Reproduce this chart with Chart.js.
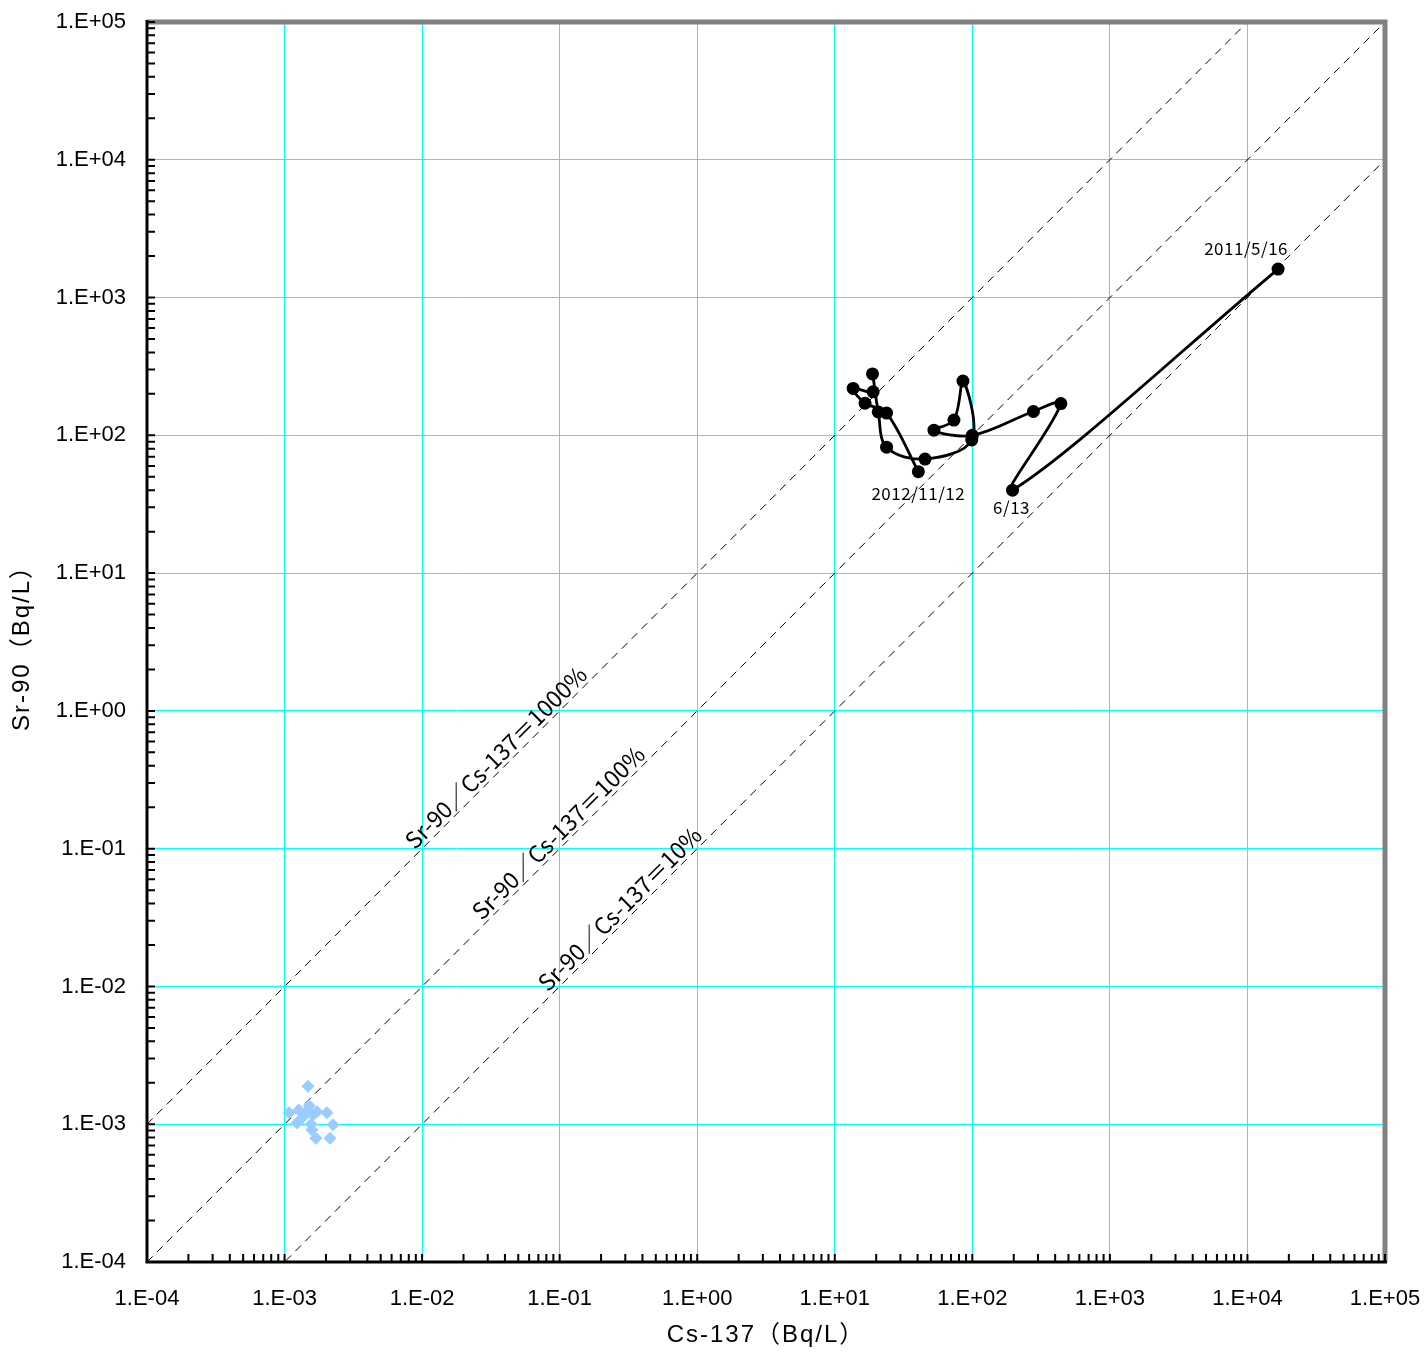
<!DOCTYPE html>
<html>
<head>
<meta charset="utf-8">
<script src="https://cdn.jsdelivr.net/npm/chart.js@4.4.1/dist/chart.umd.min.js"></script>
<style>
  html, body { margin: 0; padding: 0; background: #fff; }
  #wrap { width: 1426px; height: 1354px; }
</style>
</head>
<body>
<div id="wrap"><canvas id="chart"></canvas></div>
<script>
// ---- data ----
const decadeExps = [-4, -3, -2, -1, 0, 1, 2, 3, 4, 5];
const tickLabels = ['1.E-04', '1.E-03', '1.E-02', '1.E-01', '1.E+00', '1.E+01', '1.E+02', '1.E+03', '1.E+04', '1.E+05'];

// main series (time order, 2011/5/16 -> 2012/11/12)
const cs137 = [16700, 196, 440, 278, 100, 52.6, 73.5, 85.5, 99, 45.3, 23.8, 20.7, 18.8, 19.0, 13.6, 16.6, 23.8, 40.5];
const sr90  = [1610, 40, 170, 149, 100, 109, 129, 248, 92.5, 67.3, 82, 148, 279, 207, 219, 171, 145, 54.5];
const pointNames = ['2011/5/16', '6/13', '', '', '', '', '', '', '', '', '', '', '', '', '', '', '', '2012/11/12'];

// background (light blue diamonds)
const bgCs137 = [1.48e-3, 1.08e-3, 1.27e-3, 1.23e-3, 1.36e-3, 1.51e-3, 1.61e-3, 1.56e-3, 1.72e-3, 2.03e-3, 2.25e-3, 2.14e-3, 1.69e-3, 1.58e-3, 1.43e-3];
const bgSr90  = [1.89e-3, 1.21e-3, 1.27e-3, 1.02e-3, 1.13e-3, 1.36e-3, 1.17e-3, 1.0e-3, 1.23e-3, 1.21e-3, 0.99e-3, 0.79e-3, 0.79e-3, 0.91e-3, 1.21e-3];

// Sr-90 / Cs-137 ratio lines
const ratioValues = [10, 1, 0.1];
const ratioNames = ['Sr-90／Cs-137＝1000%', 'Sr-90／Cs-137＝100%', 'Sr-90／Cs-137＝10%'];
const ratioLabelAt = [0.0397, 0.113, 0.316];   // Cs-137 value where each label sits

const xTitle = 'Cs-137（Bq/L）';
const yTitle = 'Sr-90（Bq/L）';

// ---- helpers ----
const MIN = 1e-4, MAX = 1e5;
const allTicks = [];
decadeExps.forEach(e => {
    for (let m = 1; m <= 9; m++) {
        const v = m * Math.pow(10, e);
        if (v <= MAX * 1.0001) allTicks.push(v);
    }
});
const isDecade = v => Math.abs(Math.log10(v) - Math.round(Math.log10(v))) < 1e-6;
const labelFor = v => {
    if (!isDecade(v)) return '';
    const i = decadeExps.indexOf(Math.round(Math.log10(v)));
    return i >= 0 ? tickLabels[i] : '';
};

const mainPts = cs137.map((x, i) => ({ x: x, y: sr90[i] }));
const bgPts = bgCs137.map((x, i) => ({ x: x, y: bgSr90[i] }));

const ratioSets = ratioValues.map(r => ({
    type: 'scatter',
    data: [{ x: MIN, y: MIN * r }, { x: MAX, y: MAX * r }],
    showLine: true,
    borderColor: '#000',
    borderWidth: 1,
    borderDash: [8, 6],
    pointRadius: 0,
    tension: 0,
    order: 5
}));

const fitPad = s => { s.paddingLeft = 0; s.paddingRight = 0; s.paddingTop = 0; s.paddingBottom = 0; };

const axisCommon = {
    type: 'logarithmic',
    min: MIN,
    max: MAX,
    border: { display: false },
    grid: {
        drawTicks: false,
        lineWidth: 1,
        color: ctx => (ctx.tick && isDecade(ctx.tick.value)) ? '#00FFFF' : 'rgba(0,0,0,0)'
    },
    afterBuildTicks: scale => { scale.ticks = allTicks.map(v => ({ value: v })); },
    ticks: {
        autoSkip: false,
        maxRotation: 0,
        minRotation: 0,
        color: '#000',
        font: { family: '"Liberation Sans", Arial, sans-serif', size: 22 },
        callback: v => labelFor(v)
    }
};

// ---- decorations: axes, ticks, titles, labels ----
const decor = {
    id: 'decor',
    afterDatasetsDraw(chart) {
        const ctx = chart.ctx;
        const xs = chart.scales.x, ys = chart.scales.y;

        // ratio labels along dashed lines
        ctx.save();
        ctx.fillStyle = '#000';
        ctx.font = '23px "Noto Sans CJK JP", sans-serif';
        ctx.textAlign = 'center';
        ctx.textBaseline = 'bottom';
        ratioValues.forEach((r, i) => {
            const x0 = ratioLabelAt[i];
            const px = xs.getPixelForValue(x0), py = ys.getPixelForValue(x0 * r);
            const px2 = xs.getPixelForValue(x0 * 10), py2 = ys.getPixelForValue(x0 * 10 * r);
            const ang = Math.atan2(py2 - py, px2 - px);
            ctx.save();
            ctx.translate(px, py);
            ctx.rotate(ang);
            ctx.fillText(ratioNames[i], 0, -1);
            ctx.restore();
        });
        ctx.restore();

        // date labels on main series
        const meta = chart.getDatasetMeta(0);
        ctx.save();
        ctx.fillStyle = '#000';
        ctx.font = '17px "Noto Sans CJK JP", sans-serif';
        ctx.letterSpacing = '0.5px';
        ctx.textAlign = 'center';
        ctx.textBaseline = 'middle';
        pointNames.forEach((name, i) => {
            if (!name) return;
            const el = meta.data[i];
            let dx = 0, dy = 22;
            if (i === 0) { dx = -32; dy = -21; }
            else if (i === 1) { dx = -1; dy = 17; }
            ctx.fillText(name, el.x + dx, el.y + dy);
        });
        ctx.restore();
    },
    afterDraw(chart) {
        const ctx = chart.ctx;
        const a = chart.chartArea;
        const xs = chart.scales.x, ys = chart.scales.y;

        ctx.save();
        // top / right frame (gray)
        ctx.strokeStyle = '#808080';
        ctx.lineWidth = 5;
        ctx.beginPath();
        ctx.moveTo(a.left, a.top);
        ctx.lineTo(a.right, a.top);
        ctx.lineTo(a.right, a.bottom);
        ctx.stroke();

        // left / bottom axis (black)
        ctx.strokeStyle = '#000';
        ctx.lineWidth = 3;
        ctx.beginPath();
        ctx.moveTo(a.left, a.top - 2);
        ctx.lineTo(a.left, a.bottom);
        ctx.lineTo(a.right + 2, a.bottom);
        ctx.stroke();

        // inward ticks
        ctx.lineWidth = 2;
        ctx.beginPath();
        allTicks.forEach(v => {
            const py = ys.getPixelForValue(v);
            ctx.moveTo(a.left, py);
            ctx.lineTo(a.left + 8, py);
            const px = xs.getPixelForValue(v);
            ctx.moveTo(px, a.bottom);
            ctx.lineTo(px, a.bottom - 8);
        });
        ctx.stroke();

        // axis titles
        ctx.fillStyle = '#000';
        ctx.font = '24px "Liberation Sans", "Noto Sans CJK JP", sans-serif';
        ctx.letterSpacing = '2px';
        ctx.textAlign = 'center';
        ctx.textBaseline = 'middle';
        ctx.fillText(xTitle, (a.left + a.right) / 2, 1335);
        ctx.translate(22, (a.top + a.bottom) / 2);
        ctx.rotate(-Math.PI / 2);
        ctx.fillText(yTitle, 0, 0);
        ctx.restore();
    }
};

new Chart(document.getElementById('chart'), {
    type: 'scatter',
    data: {
        datasets: [
            {
                data: mainPts,
                showLine: true,
                borderColor: '#000',
                borderWidth: 2.8,
                backgroundColor: '#000',
                pointRadius: 6.5,
                pointBorderWidth: 0,
                pointBackgroundColor: '#000',
                tension: 0.35,
                order: 1
            },
            {
                data: bgPts,
                showLine: false,
                pointStyle: 'rectRot',
                pointRadius: 6.5,
                pointBorderWidth: 0,
                pointBackgroundColor: '#99CCFF',
                backgroundColor: '#99CCFF',
                order: 2
            },
            ...ratioSets
        ]
    },
    options: {
        responsive: true,
        maintainAspectRatio: false,
        animation: false,
        devicePixelRatio: 1,
        layout: { padding: { top: 22, right: 41, left: 0, bottom: 0 } },
        plugins: {
            legend: { display: false },
            tooltip: { enabled: false },
            title: { display: false }
        },
        scales: {
            x: {
                ...axisCommon,
                position: 'bottom',
                ticks: { ...axisCommon.ticks, padding: 24 },
                afterFit: s => { s.height = 92; fitPad(s); }
            },
            y: {
                ...axisCommon,
                position: 'left',
                ticks: { ...axisCommon.ticks, padding: 21 },
                afterFit: s => { s.width = 147; fitPad(s); }
            }
        }
    },
    plugins: [decor]
});
</script>
</body>
</html>
